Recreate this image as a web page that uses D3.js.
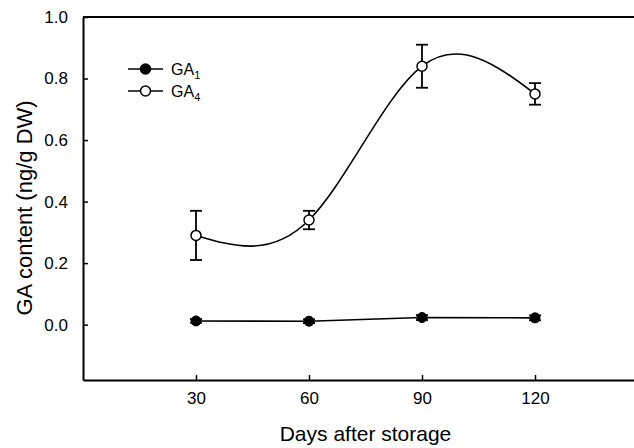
<!DOCTYPE html>
<html><head><meta charset="utf-8">
<script src="https://cdn.jsdelivr.net/npm/d3@7"></script>
<style>body{margin:0;background:#fff}svg{display:block}text{font-family:"Liberation Sans",Arial,sans-serif;fill:#000}</style>
</head><body><svg id="c" width="634" height="448"></svg>
<script>
const days = [30, 60, 90, 120];
const ga1 = [0.012, 0.011, 0.023, 0.022];
const ga1Err = [0.006, 0.006, 0.008, 0.008];
const ga4 = [0.29, 0.34, 0.84, 0.75];
const ga4Err = [0.08, 0.03, 0.07, 0.035];
const xTicks = [30, 60, 90, 120];
const yTicks = [0.0, 0.2, 0.4, 0.6, 0.8, 1.0];
const seriesNames = ["GA", "GA"];
const seriesSubs = ["1", "4"];

const svg = d3.select("#c");
const x = d3.scaleLinear().domain([0, 150]).range([83, 648]);
const y = d3.scaleLinear().domain([-0.18, 1.0]).range([380, 17]);

// frame lines
svg.append("line").attr("x1", x(0)).attr("x2", x(150)).attr("y1", y(1)).attr("y2", y(1)).attr("stroke", "#000").attr("stroke-width", 2);

const ax = svg.append("g").attr("transform", `translate(0,${y(-0.18)})`)
  .call(d3.axisBottom(x).tickValues(xTicks).tickSizeInner(-5).tickSizeOuter(0).tickPadding(12));
const ay = svg.append("g").attr("transform", `translate(${x(0)},0)`)
  .call(d3.axisLeft(y).tickValues(yTicks).tickFormat(d3.format(".1f")).tickSizeInner(-5).tickSizeOuter(0).tickPadding(15));
[ax, ay].forEach(g => {
  g.select(".domain").attr("stroke", "#000").attr("stroke-width", 2);
  g.selectAll(".tick line").attr("stroke", "#000").attr("stroke-width", 1.5);
  g.selectAll(".tick text").style("font-size", "17px").style("font-family", '"Liberation Sans",Arial,sans-serif').attr("fill", "#000");
});

// titles
svg.append("text").attr("x", 365.5).attr("y", 441).attr("text-anchor", "middle").style("font-size", "21px").text("Days after storage");
svg.append("text").attr("transform", "translate(32,208) rotate(-90)").attr("text-anchor", "middle").style("font-size", "22px").text("GA content (ng/g DW)");

// GA4 curve
const pts4 = days.map((d, i) => [x(d), y(ga4[i])]);
svg.append("path").attr("d", d3.line().curve(d3.curveNatural)(pts4)).attr("fill", "none").attr("stroke", "#000").attr("stroke-width", 1.6);
// GA1 line
const pts1 = days.map((d, i) => [x(d), y(ga1[i])]);
svg.append("path").attr("d", d3.line()(pts1)).attr("fill", "none").attr("stroke", "#000").attr("stroke-width", 1.6);

function errBars(vals, errs) {
  const g = svg.append("g").attr("stroke", "#000").attr("stroke-width", 1.8);
  days.forEach((d, i) => {
    const cx = x(d), t = y(vals[i] + errs[i]), b = y(vals[i] - errs[i]);
    g.append("line").attr("x1", cx).attr("x2", cx).attr("y1", t).attr("y2", b);
    g.append("line").attr("x1", cx - 6).attr("x2", cx + 6).attr("y1", t).attr("y2", t);
    g.append("line").attr("x1", cx - 6).attr("x2", cx + 6).attr("y1", b).attr("y2", b);
  });
}
errBars(ga4, ga4Err);
errBars(ga1, ga1Err);

svg.selectAll(".m4").data(days).enter().append("circle")
  .attr("cx", d => x(d)).attr("cy", (d, i) => y(ga4[i])).attr("r", 5)
  .attr("fill", "#fff").attr("stroke", "#000").attr("stroke-width", 1.5);
svg.selectAll(".m1").data(days).enter().append("circle")
  .attr("cx", d => x(d)).attr("cy", (d, i) => y(ga1[i])).attr("r", 5)
  .attr("fill", "#000").attr("stroke", "#000").attr("stroke-width", 1);

// legend
const legY = [69, 91];
legY.forEach((ly, i) => {
  svg.append("line").attr("x1", 128).attr("x2", 163).attr("y1", ly).attr("y2", ly).attr("stroke", "#000").attr("stroke-width", 1.6);
  svg.append("circle").attr("cx", 145.5).attr("cy", ly).attr("r", 5)
    .attr("fill", i === 0 ? "#000" : "#fff").attr("stroke", "#000").attr("stroke-width", 1.5);
  const t = svg.append("text").attr("x", 171).attr("y", ly + 6).style("font-size", "16px");
  t.append("tspan").text(seriesNames[i]);
  t.append("tspan").attr("dy", 4).style("font-size", "11px").text(seriesSubs[i]);
});
</script></body></html>
